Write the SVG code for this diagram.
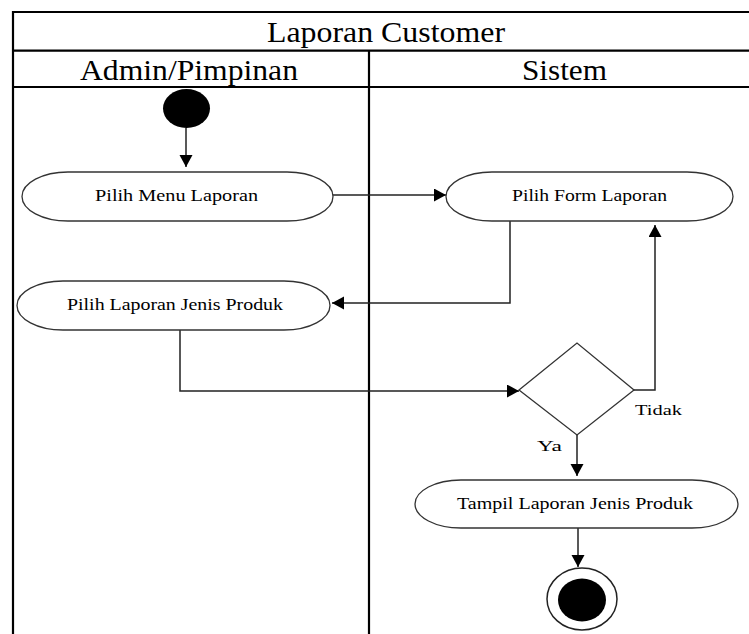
<svg xmlns="http://www.w3.org/2000/svg" width="749" height="634" viewBox="0 0 749 634">
  <style>
    .frame { stroke: #000; stroke-width: 2.2; fill: none; }
    .head { font-family: "Liberation Serif", "Times New Roman", serif; font-size: 30px; fill: #000; }
    .act { fill: #fff; stroke: #333; stroke-width: 1.3; }
    .lbl { font-family: "Liberation Serif", "Times New Roman", serif; font-size: 17px; fill: #000; text-anchor: start; }
    .conn { stroke: #222; stroke-width: 1.5; fill: none; }
    .guard { font-family: "Liberation Serif", "Times New Roman", serif; font-size: 15px; fill: #000; }
  </style>
  <defs>
    <marker id="arrow" markerUnits="userSpaceOnUse" markerWidth="14" markerHeight="14" refX="12" refY="6.5" orient="auto">
      <path d="M0,0 L12,6.5 L0,13 Z" fill="#000"/>
    </marker>
  </defs>

  <rect width="749" height="634" fill="#fff"/>

  <!-- swimlane frame -->
  <g id="swimlanes">
    <path class="frame" d="M13,634 V12 H749 M13,50.7 H749 M13,87 H749 M369,50.7 V634"/>
    <text class="head" x="267" y="42" textLength="238" lengthAdjust="spacingAndGlyphs">Laporan Customer</text>
    <text class="head" x="80" y="80" textLength="218" lengthAdjust="spacingAndGlyphs">Admin/Pimpinan</text>
    <text class="head" x="522" y="80" textLength="85" lengthAdjust="spacingAndGlyphs">Sistem</text>
  </g>

  <!-- connectors -->
  <g id="connectors">
    <path class="conn" d="M186,128 V167" marker-end="url(#arrow)"/>
    <path class="conn" d="M333,195 H446" marker-end="url(#arrow)"/>
    <path class="conn" d="M510,221 V303 H332" marker-end="url(#arrow)"/>
    <path class="conn" d="M180,330 V391 H519" marker-end="url(#arrow)"/>
    <path class="conn" d="M634,390 H655 V225" marker-end="url(#arrow)"/>
    <path class="conn" d="M577,435 V476" marker-end="url(#arrow)"/>
    <path class="conn" d="M578,528 V567" marker-end="url(#arrow)"/>
  </g>

  <g id="start">
    <ellipse cx="186.5" cy="108.5" rx="23.5" ry="19.5" fill="#000"/>
  </g>

  <g id="pilih-menu-laporan">
    <rect class="act" x="22" y="172" width="311" height="49" rx="46" ry="24.5"/>
    <text class="lbl" x="95" y="201" textLength="163" lengthAdjust="spacingAndGlyphs">Pilih Menu Laporan</text>
  </g>

  <g id="pilih-form-laporan">
    <rect class="act" x="446" y="172" width="287" height="49" rx="46" ry="24.5"/>
    <text class="lbl" x="512" y="201" textLength="155" lengthAdjust="spacingAndGlyphs">Pilih Form Laporan</text>
  </g>

  <g id="pilih-laporan-jenis-produk">
    <rect class="act" x="17" y="281" width="313" height="49" rx="46" ry="24.5"/>
    <text class="lbl" x="67" y="310" textLength="216" lengthAdjust="spacingAndGlyphs">Pilih Laporan Jenis Produk</text>
  </g>

  <g id="decision">
    <polygon class="act" points="519,390 577,343 634,390 577,435"/>
    <text class="guard" x="635" y="415" textLength="47" lengthAdjust="spacingAndGlyphs">Tidak</text>
    <text class="guard" x="537" y="451" textLength="25" lengthAdjust="spacingAndGlyphs">Ya</text>
  </g>

  <g id="tampil-laporan-jenis-produk">
    <rect class="act" x="415" y="480" width="323" height="48" rx="46" ry="24"/>
    <text class="lbl" x="457" y="509" textLength="236" lengthAdjust="spacingAndGlyphs">Tampil Laporan Jenis Produk</text>
  </g>

  <g id="end">
    <ellipse cx="582" cy="599" rx="35" ry="31" fill="#fff" stroke="#222" stroke-width="1.5"/>
    <ellipse cx="582" cy="600" rx="24" ry="21.5" fill="#000"/>
  </g>
</svg>
